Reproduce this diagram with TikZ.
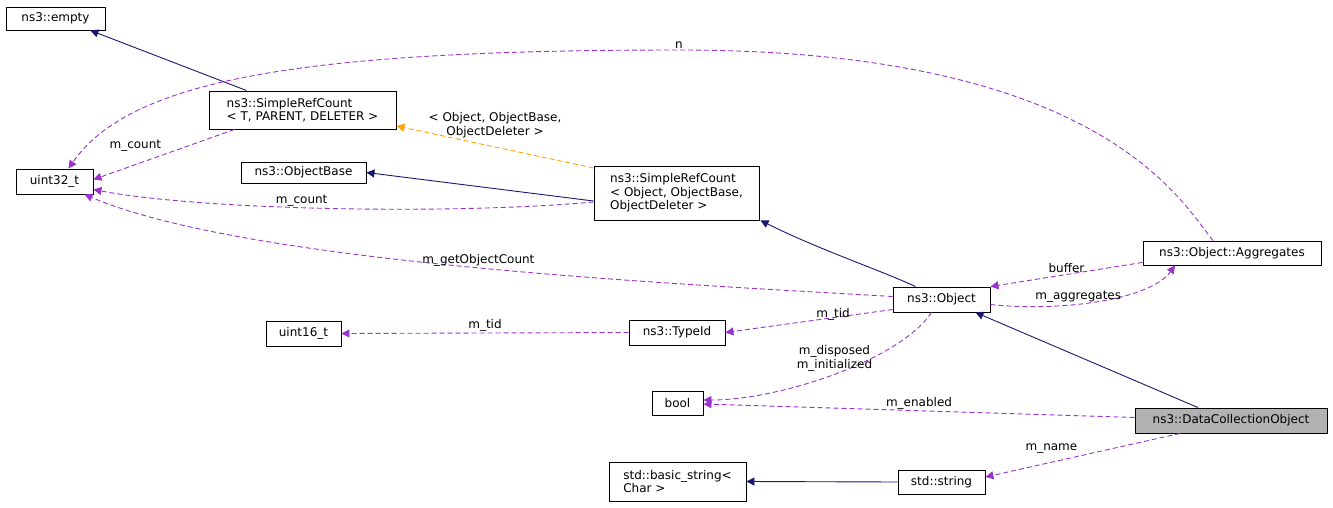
\documentclass[tikz,border=0pt]{standalone}
\usepackage{fontspec}
\setmainfont{DejaVu Sans}
\usetikzlibrary{arrows.meta, positioning}
\definecolor{edgenavy}{RGB}{25,25,112}
\definecolor{edgepurple}{RGB}{154,50,205}
\definecolor{edgeorange}{RGB}{255,165,0}
\tikzset{
  every path/.style={line width=0.9pt},
  cls/.style={draw, fill=white, inner sep=2pt, align=left, font=\fontsize{12}{13.5}\selectfont},
  inherit/.style={draw=edgenavy, -{Triangle[length=8pt,width=8pt,fill=edgenavy]}},
  member/.style={draw=edgepurple, dash pattern=on 5pt off 3pt, -{Triangle[length=8pt,width=8pt,fill=edgepurple]}},
  tmpl/.style={draw=edgeorange, dash pattern=on 5pt off 3pt, -{Triangle[length=8pt,width=8pt,fill=edgeorange]}},
  lbl/.style={font=\fontsize{12}{13.5}\selectfont, align=center, inner sep=1pt}
}
\begin{document}
\begin{tikzpicture}[x=1pt,y=-1pt]
\useasboundingbox (0,0) rectangle (1333,508);
% classes
\node[cls, minimum width=99pt, minimum height=23pt] (empty) at (55.5,18.5) {ns3::empty};
\node[cls, minimum width=187pt, minimum height=38pt] (srcT) at (302.5,110) {ns3::SimpleRefCount\\\textless{} T, PARENT, DELETER \textgreater};
\node[cls, minimum width=77pt, minimum height=25pt] (u32) at (54.5,181.5) {uint32\_t};
\node[cls, minimum width=125pt, minimum height=21pt] (objbase) at (303.5,172.5) {ns3::ObjectBase};
\node[cls, minimum width=165pt, minimum height=54pt] (srcObj) at (676.5,193) {ns3::SimpleRefCount\\\textless{} Object, ObjectBase,\\ObjectDeleter \textgreater};
\node[cls, minimum width=178pt, minimum height=24pt] (aggr) at (1232,253) {ns3::Object::Aggregates};
\node[cls, minimum width=97pt, minimum height=25pt] (obj) at (941.5,299.5) {ns3::Object};
\node[cls, minimum width=75pt, minimum height=25pt] (u16) at (303.5,333.5) {uint16\_t};
\node[cls, minimum width=96pt, minimum height=25pt] (tid) at (677,332.5) {ns3::TypeId};
\node[cls, minimum width=51pt, minimum height=24pt] (bool) at (677.5,403) {bool};
\node[cls, fill=gray!60, minimum width=192pt, minimum height=25pt] (dco) at (1231,420.5) {ns3::DataCollectionObject};
\node[cls, minimum width=137pt, minimum height=39pt] (bstr) at (677.5,481.5) {std::basic\_string\textless\\Char \textgreater};
\node[cls, minimum width=87pt, minimum height=24pt] (str) at (941.5,482) {std::string};

% inheritance
\draw[inherit] ([xshift=38pt]srcT.north west) -- ([xshift=-15pt]empty.south east);
\draw[inherit] ([yshift=-8pt]srcObj.west) -- (objbase.east);
\draw[inherit] ([xshift=-26pt]obj.north) .. controls (880,270) and (820,250) .. ([xshift=84pt]srcObj.south);
\draw[inherit] ([xshift=-33pt]dco.north) -- ([xshift=34pt]obj.south);
\draw[inherit] (str.west) -- (bstr.east);

% template argument
\draw[tmpl] ([yshift=25pt]srcObj.west) -- node[lbl, above=8pt] {\textless{} Object, ObjectBase,\\ ObjectDeleter \textgreater} ([yshift=-16pt]srcT.east);

% members
\coordinate (ntop) at (679,50);
\draw[member] ([xshift=-19pt]aggr.north) .. controls (1180,200) and (1100,50) .. (ntop)
  .. controls (300,50) and (130,80) .. ([xshift=14pt]u32.north);
\node[lbl, above] (nlbl) at (ntop) {n};
\draw[member] ([xshift=-68pt]srcT.south) -- node[lbl, above left=2pt] {m\_count} ([yshift=2pt]u32.east);
\draw[member] ([yshift=-9pt]srcObj.west) .. controls (450,215) and (200,210) .. node[lbl, above, pos=0.55] {m\_count} ([yshift=-8pt]u32.east);
\draw[member] ([yshift=3pt]obj.west) .. controls (700,285) and (250,265) .. node[lbl, above, pos=0.5] {m\_getObjectCount} ([xshift=30pt]u32.south);
\draw[member] ([yshift=3pt]aggr.south west) -- node[lbl, above] {buffer} (obj.north east);
\draw[member] ([yshift=-5pt]obj.east) .. controls (1060,312) and (1150,300) .. node[lbl, above, pos=0.4] {m\_aggregates} ([xshift=-57pt]aggr.south);
\draw[member] ([yshift=-10pt]obj.west) -- node[lbl, above right=-1pt and 6pt] {m\_tid} (tid.east);
\draw[member] (tid.west) -- node[lbl, above] {m\_tid} (u16.east);
\draw[member] ([xshift=-10pt]obj.south) .. controls (900,360) and (780,400) .. node[lbl, pos=0.35, left=-2pt] {m\_disposed\\ m\_initialized} ([yshift=3pt]bool.east);
\draw[member] ([yshift=3pt]dco.west) -- node[lbl, above] {m\_enabled} ([yshift=-1pt]bool.east);
\draw[member] ([xshift=-51pt]dco.south) -- node[lbl, above left=0pt and 4pt] {m\_name} ([yshift=5pt]str.east);
\end{tikzpicture}
\end{document}
